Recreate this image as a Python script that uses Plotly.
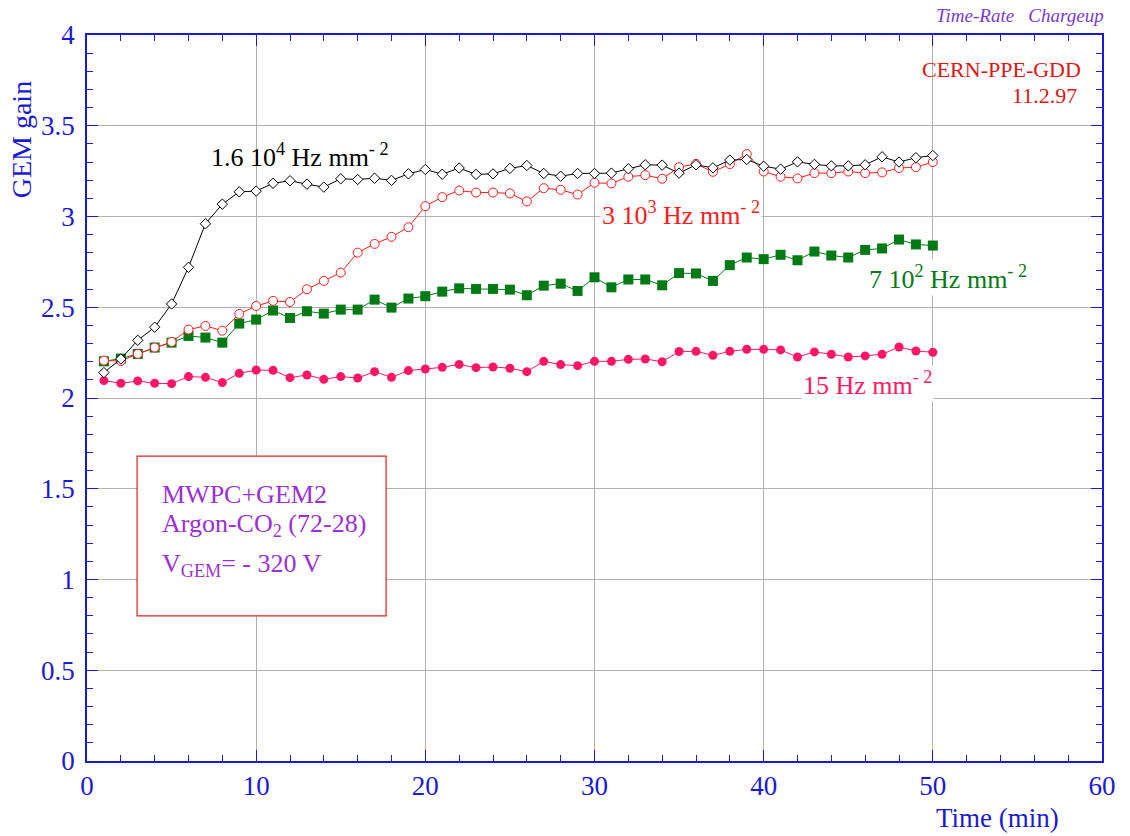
import plotly.graph_objects as go

# Time in minutes
time_min = list(range(1, 51))

# GEM gain at four irradiation rates
gain_16e4 = [2.14, 2.215, 2.318, 2.39, 2.518, 2.72, 2.96, 3.068, 3.136, 3.14,
             3.183, 3.197, 3.178, 3.162, 3.208, 3.204, 3.211, 3.199, 3.235, 3.259,
             3.233, 3.267, 3.232, 3.235, 3.265, 3.281, 3.237, 3.222, 3.237, 3.237,
             3.239, 3.263, 3.285, 3.283, 3.239, 3.285, 3.268, 3.311, 3.314, 3.277,
             3.261, 3.301, 3.287, 3.279, 3.279, 3.285, 3.329, 3.300, 3.324, 3.336]

gain_3e3 = [2.206, 2.204, 2.243, 2.278, 2.309, 2.377, 2.397, 2.371, 2.463, 2.507,
            2.535, 2.529, 2.599, 2.645, 2.691, 2.801, 2.849, 2.888, 2.941, 3.057,
            3.107, 3.143, 3.132, 3.132, 3.127, 3.083, 3.156, 3.147, 3.121, 3.186,
            3.182, 3.219, 3.228, 3.208, 3.272, 3.290, 3.246, 3.289, 3.344, 3.248,
            3.219, 3.210, 3.239, 3.239, 3.248, 3.239, 3.243, 3.267, 3.272, 3.300]

gain_7e2 = [2.202, 2.217, 2.243, 2.278, 2.305, 2.342, 2.333, 2.305, 2.41, 2.432,
            2.482, 2.441, 2.478, 2.465, 2.487, 2.487, 2.542, 2.498, 2.548, 2.561,
            2.586, 2.604, 2.601, 2.601, 2.597, 2.566, 2.619, 2.630, 2.590, 2.665,
            2.610, 2.653, 2.653, 2.621, 2.688, 2.686, 2.645, 2.732, 2.774, 2.765,
            2.789, 2.759, 2.807, 2.785, 2.774, 2.816, 2.824, 2.873, 2.846, 2.840]

gain_15 = [2.096, 2.081, 2.094, 2.081, 2.079, 2.118, 2.114, 2.085, 2.136, 2.154,
           2.153, 2.112, 2.127, 2.103, 2.118, 2.110, 2.145, 2.114, 2.151, 2.160,
           2.169, 2.185, 2.167, 2.171, 2.164, 2.145, 2.202, 2.184, 2.178, 2.202,
           2.202, 2.213, 2.215, 2.200, 2.256, 2.257, 2.235, 2.257, 2.268, 2.268,
           2.265, 2.226, 2.254, 2.241, 2.226, 2.232, 2.241, 2.281, 2.259, 2.252]

x_tick_vals = [0, 10, 20, 30, 40, 50, 60]
x_tick_text = ["0", "10", "20", "30", "40", "50", "60"]
y_tick_vals = [0, 0.5, 1, 1.5, 2, 2.5, 3, 3.5, 4]
y_tick_text = ["0", "0.5", "1", "1.5", "2", "2.5", "3", "3.5", "4"]

SERIF = "Liberation Serif"
AXIS_BLUE = "#1a1ad6"
BLACK = "#000000"
RED = "#ff1a1a"
GREEN = "#007a14"
PINK = "#ff1766"
PURPLE = "#9b30d9"

fig = go.Figure()

series = [
    (gain_15, PINK, dict(symbol="circle", size=9, color=PINK, line=dict(width=0))),
    (gain_7e2, GREEN, dict(symbol="square", size=10, color=GREEN, line=dict(width=0))),
    (gain_3e3, RED, dict(symbol="circle", size=9, color="white", line=dict(color=RED, width=1))),
    (gain_16e4, BLACK, dict(symbol="diamond", size=8, color="white", line=dict(color=BLACK, width=1))),
]
for ys, col, mk in series:
    fig.add_trace(go.Scatter(
        x=time_min, y=ys, mode="lines+markers",
        line=dict(color=col, width=1), marker=mk,
        showlegend=False, hoverinfo="skip"))

axis_common = dict(
    showline=True, linecolor=AXIS_BLUE, linewidth=1.5, mirror="ticks",
    ticks="inside", ticklen=11, tickwidth=1.2, tickcolor=AXIS_BLUE,
    showgrid=True, gridcolor="#b0b0b0", gridwidth=1, zeroline=False,
    tickfont=dict(family=SERIF, size=27, color=AXIS_BLUE),
)

fig.update_xaxes(
    range=[0, 60], tickvals=x_tick_vals, ticktext=x_tick_text, ticklabelstandoff=0,
    minor=dict(dtick=2, ticks="inside", ticklen=6, tickcolor=AXIS_BLUE, tickwidth=1.2, showgrid=False),
    **axis_common)
fig.update_yaxes(
    range=[0, 4], tickvals=y_tick_vals, ticktext=y_tick_text, ticklabelstandoff=5,
    minor=dict(dtick=0.1, ticks="inside", ticklen=6, tickcolor=AXIS_BLUE, tickwidth=1.2, showgrid=False),
    **axis_common)

# Info box
fig.add_shape(type="rect", xref="x", yref="y", x0=2.96, x1=17.68, y0=0.8, y1=1.68,
              line=dict(color="#e02020", width=1.2), fillcolor="white", layer="above")

annotations = [
    # axis titles
    dict(text="GEM gain", xref="paper", yref="paper", x=-0.065, y=0.855,
         textangle=-90, font=dict(family=SERIF, size=28, color=AXIS_BLUE)),
    dict(text="Time (min)", xref="paper", yref="paper", x=0.897, y=-0.078,
         font=dict(family=SERIF, size=27, color=AXIS_BLUE)),
    # header texts
    dict(text="<i>Time-Rate&nbsp;&nbsp;&nbsp;Chargeup</i>", xref="paper", yref="paper",
         x=1.004, y=1.027, xanchor="right", font=dict(family=SERIF, size=19, color="#7a3ad6")),
    dict(text="CERN-PPE-GDD", xref="paper", yref="paper", x=0.981, y=0.953,
         xanchor="right", font=dict(family=SERIF, size=22, color="#e01515")),
    dict(text="11.2.97", xref="paper", yref="paper", x=0.977, y=0.917,
         xanchor="right", font=dict(family=SERIF, size=22, color="#e01515")),
    # curve labels
    dict(text="1.6 10<sup>4</sup> Hz mm<sup>- 2</sup>", x=7.2, y=3.338, xanchor="left",
         font=dict(family=SERIF, size=26, color=BLACK)),
    dict(text="3 10<sup>3</sup> Hz mm<sup>- 2</sup>", x=30.3, y=3.018, xanchor="left",
         bgcolor="white", borderpad=1, font=dict(family=SERIF, size=26, color=RED)),
    dict(text="7 10<sup>2</sup> Hz mm<sup>- 2</sup>", x=46.1, y=2.665, xanchor="left",
         bgcolor="white", borderpad=1, font=dict(family=SERIF, size=26, color=GREEN)),
    dict(text="15 Hz mm<sup>- 2</sup>", x=42.2, y=2.081, xanchor="left",
         bgcolor="white", borderpad=1, font=dict(family=SERIF, size=26, color=PINK)),
    # info box text
    dict(text="MWPC+GEM2", x=4.3, y=1.468, xanchor="left",
         font=dict(family=SERIF, size=26, color=PURPLE)),
    dict(text="Argon-CO<sub>2</sub> (72-28)", x=4.3, y=1.298, xanchor="left",
         font=dict(family=SERIF, size=26, color=PURPLE)),
    dict(text="V<sub>GEM</sub>= - 320 V", x=4.3, y=1.08, xanchor="left",
         font=dict(family=SERIF, size=26, color=PURPLE)),
]
for a in annotations:
    a.setdefault("xref", "x")
    a.setdefault("yref", "y")
    a.setdefault("xanchor", "center")
    a.setdefault("yanchor", "middle")
    a["showarrow"] = False
    fig.add_annotation(**a)

fig.update_layout(
    width=1130, height=836,
    margin=dict(l=87, r=28, t=35, b=75),
    paper_bgcolor="white", plot_bgcolor="white",
)

fig.write_html("out.html")
